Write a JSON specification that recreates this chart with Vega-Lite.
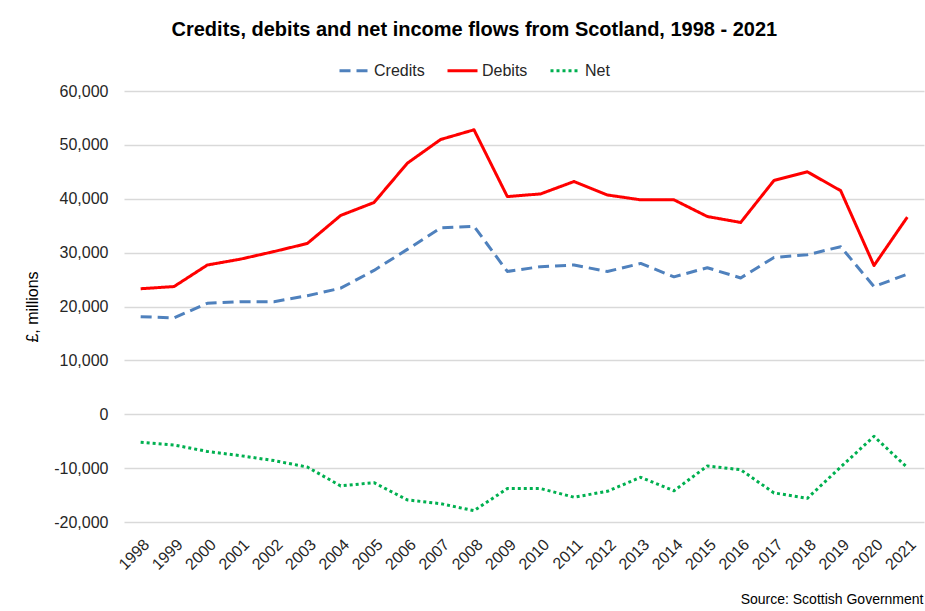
{
  "$schema": "https://vega.github.io/schema/vega-lite/v6.json",
  "width": 800,
  "height": 431,
  "autosize": {"type": "none"},
  "padding": {"left": 124, "top": 91, "right": 1, "bottom": 89},
  "background": "white",
  "config": {
    "font": "Liberation Sans",
    "view": {"stroke": null},
    "locale": {"number": {"decimal": ".", "thousands": ",", "grouping": [3], "currency": ["£", ""], "minus": "-"}}
  },
  "title": {
    "text": "Credits, debits and net income flows from Scotland, 1998 - 2021",
    "font": "Liberation Sans",
    "fontSize": 20,
    "fontWeight": "bold",
    "color": "#000000",
    "anchor": "middle",
    "frame": "bounds",
    "offset": 14
  },
  "data": {
    "values": [
      {"year": "1998", "series": "Credits", "value": 18100},
      {"year": "1999", "series": "Credits", "value": 17900},
      {"year": "2000", "series": "Credits", "value": 20600},
      {"year": "2001", "series": "Credits", "value": 20900},
      {"year": "2002", "series": "Credits", "value": 20900},
      {"year": "2003", "series": "Credits", "value": 22000},
      {"year": "2004", "series": "Credits", "value": 23400},
      {"year": "2005", "series": "Credits", "value": 26700},
      {"year": "2006", "series": "Credits", "value": 30600},
      {"year": "2007", "series": "Credits", "value": 34600},
      {"year": "2008", "series": "Credits", "value": 34900},
      {"year": "2009", "series": "Credits", "value": 26500},
      {"year": "2010", "series": "Credits", "value": 27400},
      {"year": "2011", "series": "Credits", "value": 27700},
      {"year": "2012", "series": "Credits", "value": 26500},
      {"year": "2013", "series": "Credits", "value": 28000},
      {"year": "2014", "series": "Credits", "value": 25500},
      {"year": "2015", "series": "Credits", "value": 27200},
      {"year": "2016", "series": "Credits", "value": 25300},
      {"year": "2017", "series": "Credits", "value": 29100},
      {"year": "2018", "series": "Credits", "value": 29600},
      {"year": "2019", "series": "Credits", "value": 31100},
      {"year": "2020", "series": "Credits", "value": 23700},
      {"year": "2021", "series": "Credits", "value": 26000},
      {"year": "1998", "series": "Debits", "value": 23300},
      {"year": "1999", "series": "Debits", "value": 23700},
      {"year": "2000", "series": "Debits", "value": 27700},
      {"year": "2001", "series": "Debits", "value": 28800},
      {"year": "2002", "series": "Debits", "value": 30200},
      {"year": "2003", "series": "Debits", "value": 31700},
      {"year": "2004", "series": "Debits", "value": 36900},
      {"year": "2005", "series": "Debits", "value": 39300},
      {"year": "2006", "series": "Debits", "value": 46600},
      {"year": "2007", "series": "Debits", "value": 51000},
      {"year": "2008", "series": "Debits", "value": 52800},
      {"year": "2009", "series": "Debits", "value": 40400},
      {"year": "2010", "series": "Debits", "value": 40900},
      {"year": "2011", "series": "Debits", "value": 43200},
      {"year": "2012", "series": "Debits", "value": 40700},
      {"year": "2013", "series": "Debits", "value": 39800},
      {"year": "2014", "series": "Debits", "value": 39800},
      {"year": "2015", "series": "Debits", "value": 36700},
      {"year": "2016", "series": "Debits", "value": 35600},
      {"year": "2017", "series": "Debits", "value": 43400},
      {"year": "2018", "series": "Debits", "value": 45000},
      {"year": "2019", "series": "Debits", "value": 41500},
      {"year": "2020", "series": "Debits", "value": 27600},
      {"year": "2021", "series": "Debits", "value": 36600},
      {"year": "1998", "series": "Net", "value": -5200},
      {"year": "1999", "series": "Net", "value": -5700},
      {"year": "2000", "series": "Net", "value": -6900},
      {"year": "2001", "series": "Net", "value": -7700},
      {"year": "2002", "series": "Net", "value": -8600},
      {"year": "2003", "series": "Net", "value": -9800},
      {"year": "2004", "series": "Net", "value": -13300},
      {"year": "2005", "series": "Net", "value": -12700},
      {"year": "2006", "series": "Net", "value": -15900},
      {"year": "2007", "series": "Net", "value": -16600},
      {"year": "2008", "series": "Net", "value": -17900},
      {"year": "2009", "series": "Net", "value": -13800},
      {"year": "2010", "series": "Net", "value": -13800},
      {"year": "2011", "series": "Net", "value": -15400},
      {"year": "2012", "series": "Net", "value": -14300},
      {"year": "2013", "series": "Net", "value": -11700},
      {"year": "2014", "series": "Net", "value": -14200},
      {"year": "2015", "series": "Net", "value": -9600},
      {"year": "2016", "series": "Net", "value": -10300},
      {"year": "2017", "series": "Net", "value": -14600},
      {"year": "2018", "series": "Net", "value": -15600},
      {"year": "2019", "series": "Net", "value": -9800},
      {"year": "2020", "series": "Net", "value": -4100},
      {"year": "2021", "series": "Net", "value": -9900}
    ]
  },
  "mark": {"type": "line", "strokeWidth": 3, "strokeCap": "butt", "strokeJoin": "round"},
  "encoding": {
    "x": {
      "field": "year",
      "type": "ordinal",
      "scale": {"type": "point", "padding": 0.5},
      "axis": {
        "title": "Source: Scottish Government",
        "titleFontSize": 14,
        "titleFontWeight": "normal",
        "titleColor": "#000000",
        "titleAnchor": "end",
        "titleAlign": "right",
        "titleBaseline": "top",
        "titleX": 799,
        "titleY": 70,
        "labelAngle": -45,
        "labelFontSize": 16,
        "labelColor": "#262626",
        "labelPadding": 14,
        "domain": false,
        "ticks": false,
        "grid": false
      }
    },
    "y": {
      "field": "value",
      "type": "quantitative",
      "scale": {"domain": [-20000, 60000], "nice": false, "zero": false},
      "axis": {
        "title": "£, millions",
        "titleFontSize": 16,
        "titleFontWeight": "normal",
        "titleColor": "#000000",
        "titlePadding": 13,
        "values": [-20000, -10000, 0, 10000, 20000, 30000, 40000, 50000, 60000],
        "format": ",.0f",
        "labelFontSize": 16,
        "labelColor": "#262626",
        "labelPadding": 16,
        "domain": false,
        "ticks": false,
        "grid": true,
        "gridColor": "#D9D9D9",
        "gridWidth": 1.3
      }
    },
    "color": {
      "field": "series",
      "type": "nominal",
      "scale": {"domain": ["Credits", "Debits", "Net"], "range": ["#4F81BD", "#FF0000", "#00B050"]},
      "legend": {
        "title": null,
        "orient": "none",
        "direction": "horizontal",
        "legendX": 214,
        "legendY": -37,
        "symbolType": "stroke",
        "symbolSize": 900,
        "symbolStrokeWidth": 3,
        "labelFontSize": 16,
        "labelColor": "#262626",
        "labelOffset": 3,
        "columnPadding": 16
      }
    },
    "strokeDash": {
      "field": "series",
      "type": "nominal",
      "scale": {"domain": ["Credits", "Debits", "Net"], "range": [[11, 6], [1, 0], [3, 3]]},
      "legend": null
    }
  }
}
